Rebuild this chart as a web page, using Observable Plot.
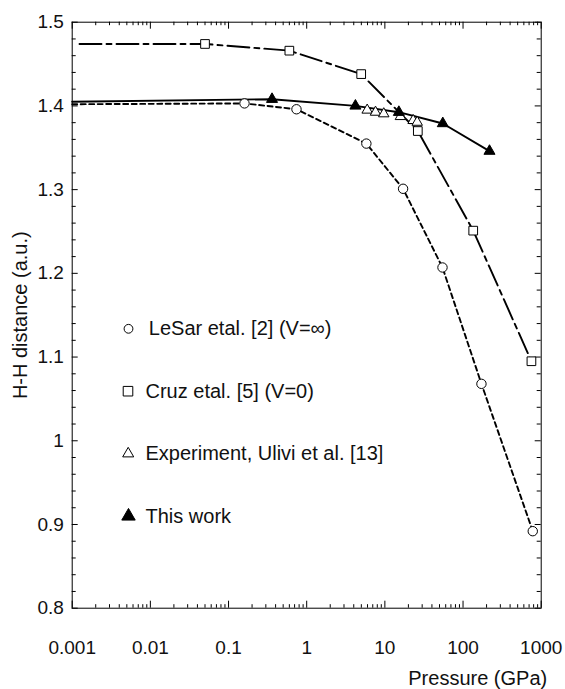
<!DOCTYPE html>
<html>
<head>
<meta charset="utf-8">
<script src="https://cdn.jsdelivr.net/npm/d3@7"></script>
<script src="https://cdn.jsdelivr.net/npm/@observablehq/plot@0.6"></script>
<style>
  html, body { margin: 0; padding: 0; background: #fff; }
</style>
</head>
<body>
<div id="chart"></div>
<script>
// ---- data ----
// LeSar et al. [2] (V = ∞) — open circles, short-dashed line
const lesarPressure = [0.16, 0.74, 5.8, 17.1, 54.6, 172, 780];
const lesarDistance = [1.403, 1.396, 1.355, 1.301, 1.207, 1.068, 0.892];
const lesarLineStart = {p: 0.001, d: 1.402};

// Cruz et al. [5] (V = 0) — open squares, dash-dot line
const cruzPressure = [0.05, 0.6, 4.98, 26.4, 135, 750];
const cruzDistance = [1.474, 1.466, 1.438, 1.370, 1.251, 1.095];
const cruzLineStart = {p: 0.00124, d: 1.474};

// Experiment, Ulivi et al. [13] — open triangles, no line
const expPressure = [5.94, 7.59, 9.68, 15.8, 23.0, 25.9];
const expDistance = [1.395, 1.3925, 1.3906, 1.3873, 1.3826, 1.3805];

// This work — filled triangles, solid line
const thisPressure = [0.36, 4.2, 15.1, 55.1, 218];
const thisDistance = [1.408, 1.400, 1.3925, 1.379, 1.346];
const thisLineStart = {p: 0.001, d: 1.405};

// axes
const xTicks = [0.001, 0.01, 0.1, 1, 10, 100, 1000];
const xTickLabels = ["0.001", "0.01", "0.1", "1", "10", "100", "1000"];
const yTicks = [0.8, 0.9, 1.0, 1.1, 1.2, 1.3, 1.4, 1.5];
const yTickLabels = ["0.8", "0.9", "1", "1.1", "1.2", "1.3", "1.4", "1.5"];
const xLabel = "Pressure (GPa)";
const yLabel = "H-H distance (a.u.)";
const legendLabels = ["LeSar etal. [2] (V=\u221E)", "Cruz etal. [5] (V=0)", "Experiment, Ulivi et al. [13]", "This work"];

// ---- build tables ----
const zip = (ps, ds) => ps.map((p, i) => ({p, d: ds[i]}));
const lesar = zip(lesarPressure, lesarDistance);
const cruz = zip(cruzPressure, cruzDistance);
const exp = zip(expPressure, expDistance);
const thisWork = zip(thisPressure, thisDistance);

const xMinor = [];
for (let e = -3; e < 3; e++) for (let m = 2; m <= 9; m++) xMinor.push(+(m * Math.pow(10, e)).toPrecision(3));
const yMinor = d3.range(0.8, 1.5001, 0.02).map(v => +v.toFixed(2)).filter(v => !yTicks.some(t => Math.abs(t - v) < 1e-6));

const xLab = new Map(xTicks.map((t, i) => [t, xTickLabels[i]]));
const yLab = new Map(yTicks.map((t, i) => [t.toFixed(1), yTickLabels[i]]));

const FONT = "'Liberation Sans', Arial, Helvetica, sans-serif";
const ink = "#111";

const W = 565, H = 689;
const mL = 71.7, mR = 24.3, mT = 21.7, mB = 81.3;
const fw = W - mL - mR, fh = H - mT - mB;

// inward ticks drawn as short rules via insets
const xTickMarks = (data, len) => [
  Plot.ruleX(data, {x: d => d, stroke: "black", strokeWidth: 1, insetTop: fh - len}),
  Plot.ruleX(data, {x: d => d, stroke: "black", strokeWidth: 1, insetBottom: fh - len})
];
const yTickMarks = (data, len) => [
  Plot.ruleY(data, {y: d => d, stroke: "black", strokeWidth: 1, insetRight: fw - len}),
  Plot.ruleY(data, {y: d => d, stroke: "black", strokeWidth: 1, insetLeft: fw - len})
];

const legendRows = [306.6, 369, 431.5, 494];
const legendSym = [
  {symbol: "circle", r: 4.4, fill: "white", dx: 56.3},
  {symbol: "square", r: 5.4, fill: "white", dx: 55.8},
  {symbol: "triangle", r: 4.1, fill: "white", dx: 56},
  {symbol: "triangle", r: 5.0, fill: "black", dx: 56.3}
];
const legendTextDx = [76.6, 73.3, 73.3, 73.3];

const legendMarks = [];
legendLabels.forEach((lab, i) => {
  legendMarks.push(Plot.dot([0], {frameAnchor: "top-left", dx: legendSym[i].dx, dy: legendRows[i], symbol: legendSym[i].symbol, r: legendSym[i].r, fill: legendSym[i].fill, stroke: "black", strokeWidth: 1}));
  legendMarks.push(Plot.text([lab], {frameAnchor: "top-left", dx: legendTextDx[i], dy: legendRows[i], text: d => d, textAnchor: "start", lineAnchor: "middle", fontSize: 20, fill: ink}));
});

const chart = Plot.plot({
  width: W,
  height: H,
  marginLeft: mL,
  marginRight: mR,
  marginTop: mT,
  marginBottom: mB,
  style: {fontFamily: FONT, fontSize: "19px", background: "white", color: ink, overflow: "visible"},
  x: {type: "log", domain: [0.001, 1000]},
  y: {domain: [0.8, 1.5]},
  marks: [
    // tick marks (inward)
    ...xTickMarks(xMinor, 3.5),
    ...xTickMarks(xTicks, 7),
    ...yTickMarks(yMinor, 4),
    ...yTickMarks(yTicks, 6),
    // tick labels
    Plot.axisX(xTicks, {anchor: "bottom", tickSize: 0, tickPadding: 32, tickFormat: d => xLab.get(d), fontSize: 19, fill: ink, label: null}),
    Plot.axisY(yTicks, {anchor: "left", tickSize: 0, tickPadding: 8.4, tickFormat: d => yLab.get((+d).toFixed(1)), fontSize: 19, fill: ink, label: null}),
    Plot.frame({stroke: "black", strokeWidth: 1}),
    // axis titles
    Plot.text([xLabel], {frameAnchor: "bottom-right", dx: 6, dy: 70, text: d => d, textAnchor: "end", lineAnchor: "middle", fontSize: 20, fill: ink}),
    Plot.text([yLabel], {frameAnchor: "left", dx: -51.7, text: d => d, rotate: -90, textAnchor: "middle", lineAnchor: "middle", fontSize: 20, fill: ink}),
    // lines
    Plot.line([lesarLineStart, ...lesar], {x: "p", y: "d", stroke: "black", strokeWidth: 1.9, strokeDasharray: "5,3.5"}),
    Plot.line([cruzLineStart, ...cruz], {x: "p", y: "d", stroke: "black", strokeWidth: 1.9, strokeDasharray: "22,5,5,5"}),
    Plot.line([thisLineStart, ...thisWork], {x: "p", y: "d", stroke: "black", strokeWidth: 1.9}),
    // markers
    Plot.dot(lesar, {x: "p", y: "d", symbol: "circle", r: 4.7, fill: "white", stroke: "black", strokeWidth: 1}),
    Plot.dot(cruz, {x: "p", y: "d", symbol: "square", r: 4.9, fill: "white", stroke: "black", strokeWidth: 1}),
    Plot.dot(exp, {x: "p", y: "d", symbol: "triangle", r: 3.9, fill: "white", stroke: "black", strokeWidth: 1}),
    Plot.dot(thisWork, {x: "p", y: "d", symbol: "triangle", r: 4.1, fill: "black", stroke: "black", strokeWidth: 1}),
    ...legendMarks
  ]
});

document.getElementById("chart").appendChild(chart);
</script>
</body>
</html>
